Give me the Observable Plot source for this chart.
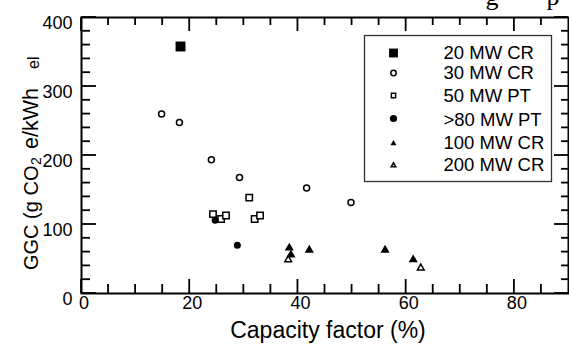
<!DOCTYPE html>
<html>
<head>
<meta charset="utf-8">
<script src="https://cdn.jsdelivr.net/npm/d3@7"></script>
<script src="https://cdn.jsdelivr.net/npm/@observablehq/plot@0.6"></script>
<style>
  html, body { margin: 0; padding: 0; background: #fff; }
</style>
</head>
<body>
<div id="chart"></div>
<script>
// ---- Data ----
const cr20X = [18.3];
const cr20Y = [358];
const cr30X = [14.8, 18.1, 24.0, 29.2, 41.6, 49.8];
const cr30Y = [260, 248, 194, 168, 153, 132];
const pt50X = [24.3, 25.8, 26.7, 31.0, 32.0, 33.0];
const pt50Y = [115, 108, 113, 139, 108, 113];
const pt80X = [24.7, 28.8];
const pt80Y = [106, 70];
const cr100X = [38.4, 38.7, 42.1, 56.1, 61.3];
const cr100Y = [66, 56, 63, 63, 49];
const cr200X = [38.2, 62.7];
const cr200Y = [49, 37];

const seriesNames = ["20 MW CR", "30 MW CR", "50 MW PT", ">80 MW PT", "100 MW CR", "200 MW CR"];
const xMajorTicks = [0, 20, 40, 60, 80];
const xMinorTicks = [5, 10, 15, 25, 30, 35, 45, 50, 55, 65, 70, 75, 85];
const yMajorTicks = [0, 100, 200, 300, 400];
const yMinorTicks = [20, 40, 60, 80, 120, 140, 160, 180, 220, 240, 260, 280, 320, 340, 360, 380];
const xTitle = "Capacity factor (%)";

const pts = (xs, ys) => xs.map((x, i) => ({x, y: ys[i]}));

const styles = [
  {symbol: "square", r: 5.6, lr: 5.0, fill: "black", stroke: "none", sw: 0},
  {symbol: "circle", r: 3.0, lr: 2.7, fill: "white", stroke: "black", sw: 1.5},
  {symbol: "square", r: 3.6, lr: 2.4, fill: "white", stroke: "black", sw: 1.5},
  {symbol: "circle", r: 3.5, lr: 3.6, fill: "black", stroke: "none", sw: 0},
  {symbol: "triangle", r: 3.4, lr: 2.3, fill: "black", stroke: "none", sw: 0},
  {symbol: "triangle", r: 2.5, lr: 1.7, fill: "white", stroke: "black", sw: 1.5}
];
const seriesData = [pts(cr20X, cr20Y), pts(cr30X, cr30Y), pts(pt50X, pt50Y), pts(pt80X, pt80Y), pts(cr100X, cr100Y), pts(cr200X, cr200Y)];

const W = 569, H = 345;
const mL = 81, mR = 1, mT = 17, mB = 52;
const legendMarkerX = 393, legendTextX = 443;
const legendRowY = [52.5, 72.5, 95, 118, 143, 165];
const legendTextBase = [58.3, 78.3, 101.7, 125, 148.3, 170];

const marks = [];
marks.push(Plot.axisX({anchor: "bottom", ticks: xMajorTicks, tickSize: 0, tickPadding: 3, dx: 2.5, label: null, fontSize: 18}));
marks.push(Plot.axisY({anchor: "left", ticks: yMajorTicks, tickSize: 0, tickPadding: 9, dy: 5.5, label: null, fontSize: 18}));
marks.push(Plot.text([xTitle], {frameAnchor: "bottom", dx: 3, dy: 37.6, lineAnchor: "middle", fontSize: 23, fill: "black"}));

seriesData.forEach((d, i) => {
  const s = styles[i];
  marks.push(Plot.dot(d, {x: "x", y: "y", symbol: s.symbol, r: s.r, fill: s.fill, stroke: s.stroke, strokeWidth: s.sw}));
});

marks.push(Plot.frame({insetLeft: 283, insetRight: 17, insetTop: 18, insetBottom: 112, fill: "white", stroke: "#333", strokeWidth: 1.3}));
seriesNames.forEach((name, i) => {
  const s = styles[i];
  marks.push(Plot.dot([name], {frameAnchor: "top-left", dx: legendMarkerX - mL, dy: legendRowY[i] - mT, symbol: s.symbol, r: s.lr, fill: s.fill, stroke: s.stroke, strokeWidth: s.sw}));
  marks.push(Plot.text([name], {frameAnchor: "top-left", dx: legendTextX - mL, dy: legendTextBase[i] - 0.32 * 18.5 - mT, textAnchor: "start", lineAnchor: "middle", fontSize: 18.5, fill: "black"}));
});
marks.push(Plot.frame({stroke: "black", strokeWidth: 2}));

const chart = Plot.plot({
  width: W,
  height: H,
  marginLeft: mL,
  marginRight: mR,
  marginTop: mT,
  marginBottom: mB,
  x: {domain: [0, 90]},
  y: {domain: [0, 400]},
  style: {fontFamily: "'Liberation Sans', Arial, Helvetica, sans-serif", fontSize: "18px", background: "white", color: "black"},
  marks
});

const svgSel = d3.select(chart);

// inward ticks on all four sides, positioned through Plot's scales (drawn as filled rects)
const sx = chart.scale("x"), sy = chart.scale("y");
const fx = v => { const r = sx && sx.apply ? sx.apply(v) : NaN; return Number.isFinite(r) ? r : mL + v / 90 * (W - mL - mR); };
const fy = v => { const r = sy && sy.apply ? sy.apply(v) : NaN; return Number.isFinite(r) ? r : (H - mB) - v / 400 * (H - mT - mB); };
const xL = fx(0), xR = fx(90), yB = fy(0), yT = fy(400);
const tg = svgSel.append("g").attr("fill", "black");
const box = (x, y, w, h) => tg.append("rect").attr("x", x).attr("y", y).attr("width", w).attr("height", h);
const tw = 1.8;
xMajorTicks.forEach(v => { const x = fx(v) - tw / 2; box(x, yB - 14, tw, 14); box(x, yT, tw, 14); });
xMinorTicks.forEach(v => { const x = fx(v) - tw / 2; box(x, yB - 9, tw, 9); box(x, yT, tw, 8); });
yMajorTicks.forEach(v => { const y = fy(v) - tw / 2; box(xL, y, 15, tw); box(xR - 14, y, 14, tw); });
yMinorTicks.forEach(v => { const y = fy(v) - tw / 2; box(xL, y, 9, tw); box(xR - 7, y, 7, tw); });

// y-axis title with subscripts
const yt = svgSel.append("g").attr("font-family", "'Liberation Sans', Arial, sans-serif").attr("fill", "black");
const piece = (txt, y, x, size) => yt.append("text")
  .attr("transform", `translate(${x},${y}) rotate(-90)`)
  .attr("font-size", size).attr("text-anchor", "start").text(txt);
piece("GGC (g CO", 270, 37.5, 20);
piece("2", 165, 40.5, 14);
piece("e/kWh", 149, 37.5, 21.5);
piece("el", 69, 39, 16);

// clipped caption fragments at the very top
const capG = svgSel.append("g").attr("font-family", "'Liberation Serif', 'Times New Roman', serif").attr("font-size", 26).attr("fill", "black");
capG.append("text").attr("x", 492).attr("y", 5).text("g");
capG.append("text").attr("x", 553).attr("y", 5).text("p");

document.getElementById("chart").appendChild(chart);
</script>
</body>
</html>
